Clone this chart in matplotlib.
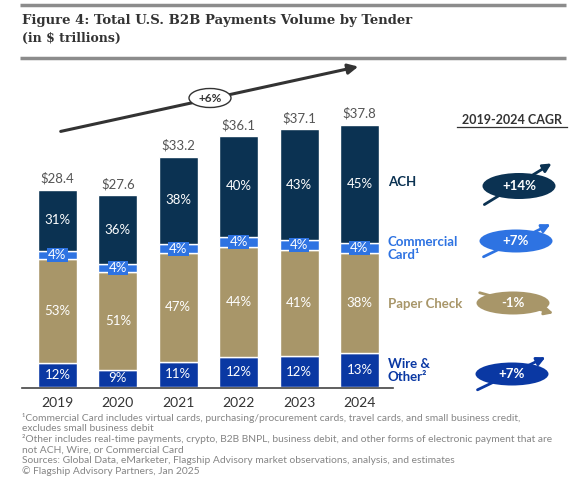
import matplotlib
matplotlib.use("Agg")
import matplotlib.pyplot as plt
from matplotlib.patches import Ellipse

# ============================================================================
# Datos
# ============================================================================
years = ["2019", "2020", "2021", "2022", "2023", "2024"]
totals = [28.4, 27.6, 33.2, 36.1, 37.1, 37.8]
# participación por tipo (%), de abajo hacia arriba
wire_pct = [12, 9, 11, 12, 12, 13]
check_pct = [53, 51, 47, 44, 41, 38]
card_pct = [4, 4, 4, 4, 4, 4]
ach_pct = [31, 36, 38, 40, 43, 45]

series_names = ["Wire & Other²", "Paper Check", "Commercial Card¹", "ACH"]
cagr_labels = ["+7%", "-1%", "+7%", "+14%"]
total_cagr = "+6%"

footnotes = [
    "¹Commercial Card includes virtual cards, purchasing/procurement cards, travel cards, and small business credit,",
    "excludes small business debit",
    "²Other includes real-time payments, crypto, B2B BNPL, business debit, and other forms of electronic payment that are",
    "not ACH, Wire, or Commercial Card",
    "Sources: Global Data, eMarketer, Flagship Advisory market observations, analysis, and estimates",
    "© Flagship Advisory Partners, Jan 2025",
]

c_ach = "#0b3252"
c_card = "#2e73e2"
c_check = "#a89669"
c_wire = "#0a38a3"
colors = [c_wire, c_check, c_card, c_ach]
pcts = [wire_pct, check_pct, card_pct, ach_pct]

W, H = 586, 478
fig = plt.figure(figsize=(W / 100, H / 100), dpi=100)
sans = ["Lato", "DejaVu Sans"]

# ============================================================================
# Barras apiladas
# ============================================================================
ax = fig.add_axes([27.3 / W, 91 / H, 362.4 / W, 327 / H], zorder=1)
ax.patch.set_visible(False)
x = range(len(years))
bottoms = [0.0] * len(years)
for pct, col in zip(pcts, colors):
    heights = [t * p / 100 for t, p in zip(totals, pct)]
    ax.bar(x, heights, bottom=bottoms, width=0.645, color=col, edgecolor="white", linewidth=1)
    for i, (h, b, p) in enumerate(zip(heights, bottoms, pct)):
        kw = {}
        if col == c_card:
            kw["bbox"] = dict(boxstyle="square,pad=0.08", fc=c_card, ec="none")
        ax.text(i, b + h / 2, f"{p}%", ha="center", va="center", color="white",
                fontsize=9.5, family=sans, **kw)
    bottoms = [b + h for b, h in zip(bottoms, heights)]

for i, t in enumerate(totals):
    ax.text(i, t + 0.7, f"${t}", ha="center", va="bottom", color="#555555",
            fontsize=9.5, family=sans)

ax.set_xlim(-0.5, 5.5)
ax.set_ylim(0, 47.1)
ax.set_xticks(list(x), years)
ax.set_yticks([])
ax.tick_params(axis="x", length=0, pad=7, labelsize=10, labelcolor="#333333")
for lab in ax.get_xticklabels():
    lab.set_family(sans)
for s in ["top", "right", "left", "bottom"]:
    ax.spines[s].set_visible(False)

# ============================================================================
# Textos y anotaciones (coordenadas en pixeles)
# ============================================================================
ov = fig.add_axes([0, 0, 1, 1], zorder=2)
ov.set_xlim(0, W)
ov.set_ylim(H, 0)
ov.axis("off")

# línea base
ov.plot([22, 393], [387.5, 387.5], color="#444444", lw=1.2)

ov.plot([20, 566], [5, 5], color="#8c8c8c", lw=2.5, solid_capstyle="butt")
ov.plot([20, 566], [58, 58], color="#8c8c8c", lw=2.5, solid_capstyle="butt")
ov.text(22, 20, "Figure 4: Total U.S. B2B Payments Volume by Tender", fontsize=9.5,
        fontweight="bold", family="DejaVu Serif", color="#333333", va="center")
ov.text(22, 38, "(in $ trillions)", fontsize=9, fontweight="bold",
        family="DejaVu Serif", color="#333333", va="center")

# flecha total
ov.annotate("", xy=(361, 66), xytext=(58, 132), zorder=3,
            arrowprops=dict(arrowstyle="-|>,head_length=0.6,head_width=0.3", color="#333333", lw=2.2))
ov.add_patch(Ellipse((210, 98), 42, 19, fc="white", ec="#333333", lw=1, zorder=5))
ov.text(210, 98, total_cagr, ha="center", va="center", fontsize=8.5, fontweight="bold",
        family=sans, color="#333333", zorder=6)

# CAGR lateral
ov.text(512, 120, "2019-2024 CAGR", ha="center", va="center", fontsize=9, fontweight="bold",
        family=sans, color="#333333")
ov.plot([457, 567], [127, 127], color="#333333", lw=0.9)

# (nombre, color, y de texto, centro elipse, inicio y fin de flecha)
rows = [
    (["Wire &", "Other²"], c_wire, [364, 377], (512, 374), (475, 391), (548, 356)),
    (["Paper Check"], c_check, [304], (513, 303), (477, 292), (556, 314)),
    (["Commercial", "Card¹"], c_card, [242, 255], (516, 241), (481, 258), (553, 223)),
    (["ACH"], c_ach, [182], (519, 186), (482, 206), (554, 162)),
]
for (lines, col, ys, ctr, a0, a1), lab in zip(rows, cagr_labels):
    for ln, yy in zip(lines, ys):
        ov.text(388, yy, ln, ha="left", va="center", fontsize=9.5, fontweight="bold",
                family=sans, color=col)
    ov.annotate("", xy=a1, xytext=a0, zorder=3,
                arrowprops=dict(arrowstyle="-|>,head_length=0.5,head_width=0.25", color=col, lw=2))
    hgt = 26 if lab == "+14%" else 23
    ov.add_patch(Ellipse(ctr, 73, hgt, fc=col, ec="none", zorder=5))
    ov.text(ctr[0], ctr[1], lab, ha="center", va="center", fontsize=9.5, fontweight="bold",
            family=sans, color="white", zorder=6)

# notas al pie
for k, ln in enumerate(footnotes):
    ov.text(22, 418 + k * 10.6, ln, ha="left", va="center", fontsize=7.4, family=sans,
            color="#858585")

fig.savefig("out.png", dpi=100)
